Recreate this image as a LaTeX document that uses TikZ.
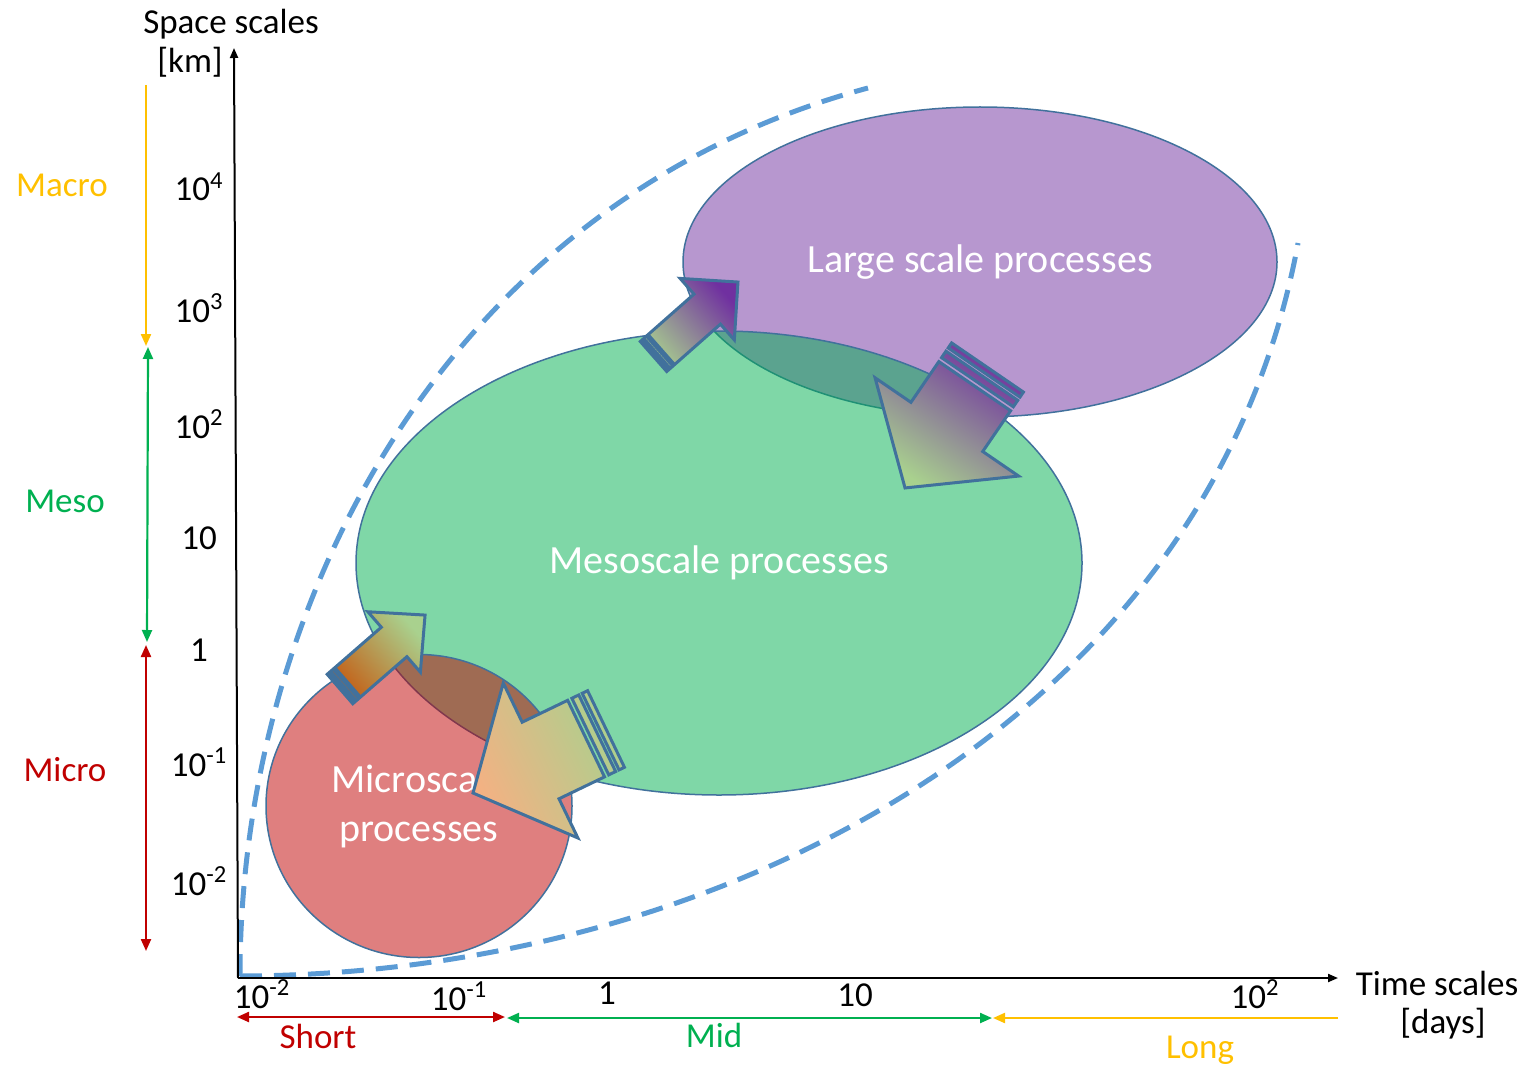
\documentclass[tikz,border=0pt]{standalone}
\usepackage{fontspec}
\setmainfont{Carlito}
\usetikzlibrary{shapes.geometric,arrows.meta}

\definecolor{edgeblue}{HTML}{41719C}
\definecolor{dashblue}{HTML}{5B9BD5}
\definecolor{macroc}{HTML}{FFC000}
\definecolor{mesoc}{HTML}{00B050}
\definecolor{microc}{HTML}{C00000}
\definecolor{purplec}{HTML}{7030A0}
\definecolor{lightgreen}{HTML}{A9D18E}
\definecolor{darkorange}{HTML}{C55A11}
\definecolor{lightorange}{HTML}{F4B183}

\tikzset{
  lbl/.style={font=\fontsize{17.5}{21}\selectfont, inner sep=0pt, anchor=base},
  procell/.style={ellipse, draw=edgeblue, line width=0.75pt, fill opacity=0.5,
    text opacity=1, text=white, inner sep=0pt, align=center,
    font=\fontsize{20}{24.5}\selectfont},
  axisline/.style={line width=1pt, -{Triangle[length=5pt,width=4pt]}},
  rangeline/.style={line width=1.1pt},
  rtip/.tip={Triangle[length=6pt,width=5pt]},
  dashcurve/.style={draw=dashblue, line width=2.5pt, dash pattern=on 11pt off 6pt},
  blockarrow/.style={draw=edgeblue, line width=1.5pt, line join=miter}
}

% striped block arrow: tail centre, direction, length, head length,
% head half-width, shaft half-width, tail colour, head colour
\newcommand\stripearrow[8]{%
  \pgfmathsetmacro\aone{0.14*#6}%
  \pgfmathsetmacro\atwo{0.23*#6}%
  \pgfmathsetmacro\athree{0.41*#6}%
  \pgfmathsetmacro\afour{0.52*#6}%
  \pgfmathsetmacro\aneck{#3-#4}%
  \pgfmathsetmacro\agrad{#2-90}%
  \begin{scope}[shift={(#1)}, rotate=#2]
    \path[blockarrow, bottom color=#7, top color=#8, shading angle=\agrad]
      (0,-#6) rectangle (\aone,#6)
      (\atwo,-#6) rectangle (\athree,#6)
      (\afour,-#6) -- (\aneck,-#6) -- (\aneck,-#5) -- (#3,0)
      -- (\aneck,#5) -- (\aneck,#6) -- (\afour,#6) -- cycle;
  \end{scope}}

\begin{document}
\begin{tikzpicture}[x=0.5pt, y=-0.5pt]
\useasboundingbox (0,0) rectangle (1529,1064);

% process regions
\node[procell, fill=purplec, minimum width=297pt, minimum height=155pt]
  (large) at (980,262) {Large scale processes};
\node[procell, fill=mesoc, minimum width=363pt, minimum height=232pt]
  (meso) at (719,563) {Mesoscale processes};
\node[procell, fill=microc, minimum width=153pt, minimum height=151.5pt]
  (micro) at (419,806) {Microscale\\processes};

% envelope of the process regions
\coordinate (env0) at (240,976);
\coordinate (envA) at (868,88);
\coordinate (envB) at (1298,243);
\draw[dashcurve] (env0) .. controls (240,600) and (450,200) .. (envA);
\draw[dashcurve] (env0) .. controls (720,975) and (1210,720) .. (envB);

% axes
\coordinate (origin) at (238,978);
\coordinate (ytop) at (234,48);
\coordinate (xend) at (1338,978);
\draw[axisline] (origin) -- (ytop);
\draw[axisline] (origin) -- (xend);

\node[lbl, anchor=base] (yname) at (231,34) {Space scales};
\node[lbl, anchor=base] (yunit) at (190,73) {[km]};
\node[lbl, anchor=base] (xname) at (1437,995) {Time scales};
\node[lbl, anchor=base] (xunit) at (1443,1033) {[days]};

% space ticks
\node[lbl] (y4) at (199,201) {10\textsuperscript{4}};
\node[lbl] (y3) at (199,322) {10\textsuperscript{3}};
\node[lbl] (y2) at (199,438) {10\textsuperscript{2}};
\node[lbl] (y1) at (199,549) {10};
\node[lbl] (y0) at (199,661) {1};
\node[lbl] (ym1) at (199,776) {10\textsuperscript{-1}};
\node[lbl] (ym2) at (199,895) {10\textsuperscript{-2}};

% time ticks
\node[lbl] (xm2) at (262,1008) {10\textsuperscript{-2}};
\node[lbl] (xm1) at (459,1010) {10\textsuperscript{-1}};
\node[lbl] (x0) at (607,1004) {1};
\node[lbl] (x1) at (855,1006) {10};
\node[lbl] (x2) at (1255,1008) {10\textsuperscript{2}};

% space ranges
\coordinate (macroA) at (146,85);
\coordinate (macroB) at (146,346);
\coordinate (mesoA) at (148,347);
\coordinate (mesoB) at (147,642);
\coordinate (microA) at (146,645);
\coordinate (microB) at (146,951);
\draw[rangeline, draw=macroc, -rtip] (macroA) -- (macroB);
\draw[rangeline, draw=mesoc, rtip-rtip] (mesoA) -- (mesoB);
\draw[rangeline, draw=microc, rtip-rtip] (microA) -- (microB);
\node[lbl, text=macroc] (macro) at (62,197) {Macro};
\node[lbl, text=mesoc] (mesol) at (65,512) {Meso};
\node[lbl, text=microc] (microl) at (65,781) {Micro};

% time ranges
\coordinate (shortA) at (237,1017);
\coordinate (shortB) at (505,1017);
\coordinate (midA) at (507,1018);
\coordinate (midB) at (992,1018);
\coordinate (longA) at (1338,1018);
\coordinate (longB) at (993,1018);
\draw[rangeline, draw=microc, rtip-rtip] (shortA) -- (shortB);
\draw[rangeline, draw=mesoc, rtip-rtip] (midA) -- (midB);
\draw[rangeline, draw=macroc, -rtip] (longA) -- (longB);
\node[lbl, text=microc] (short) at (318,1048) {Short};
\node[lbl, text=mesoc] (mid) at (714,1047) {Mid};
\node[lbl, text=macroc] (long) at (1200,1058) {Long};

% exchanges between the scales
\stripearrow{653.5,356.5}{41.4}{112.6}{41}{41}{20}{lightgreen}{purplec}
\stripearrow{987.5,367.5}{235.6}{146}{74}{87}{43.5}{purplec}{lightgreen}
\stripearrow{340,689}{41}{112.7}{41}{40}{19.5}{darkorange}{lightgreen}
\stripearrow{606,729}{205.7}{147.6}{75}{86}{42.5}{lightgreen}{lightorange}

\end{tikzpicture}
\end{document}
